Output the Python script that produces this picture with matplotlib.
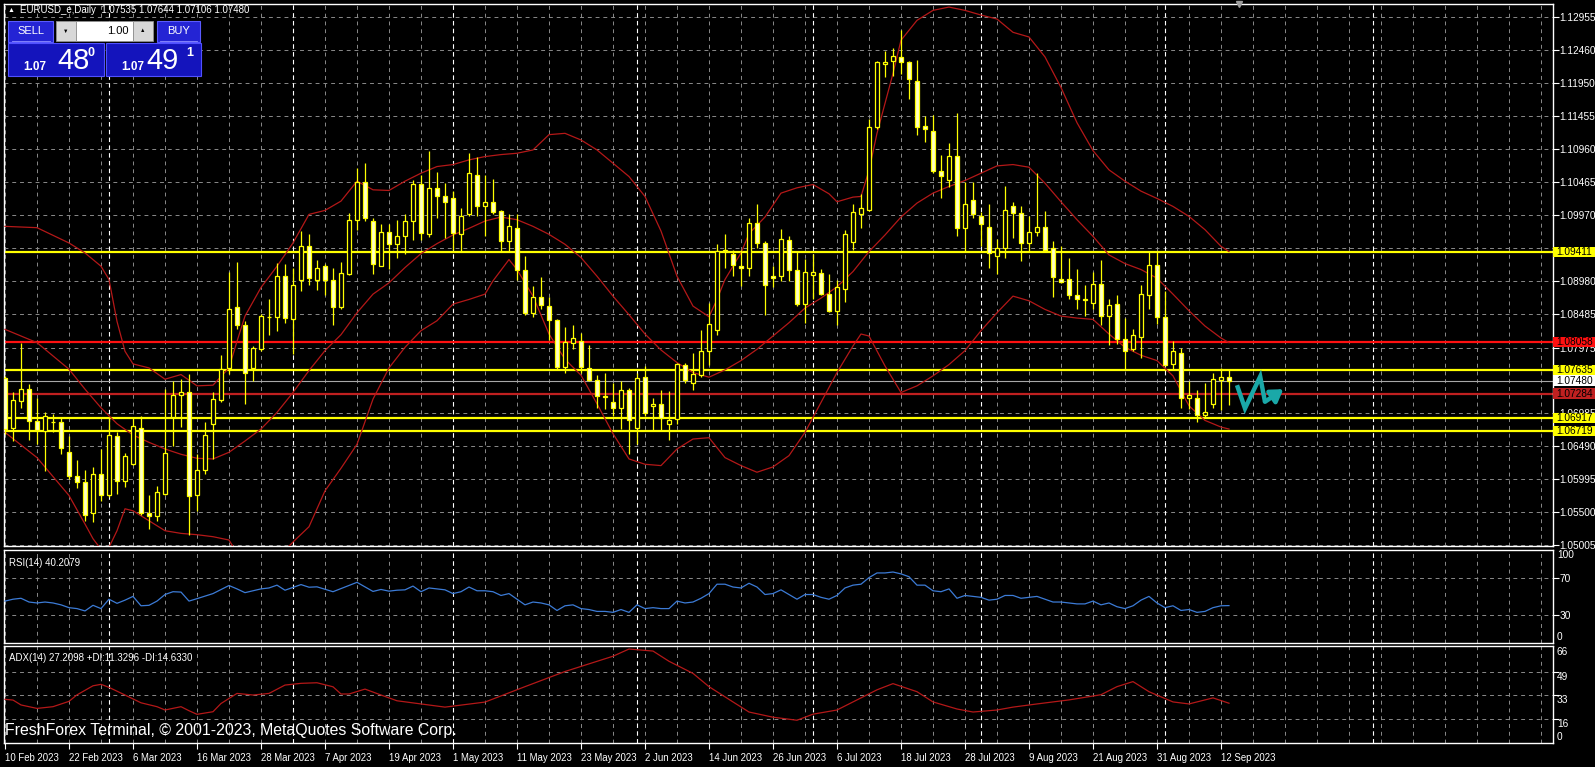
import numpy as np
import matplotlib.pyplot as plt
from matplotlib.patches import Rectangle
from matplotlib.transforms import blended_transform_factory

plt.rcParams['font.family'] = ['Liberation Sans', 'DejaVu Sans']

# EURUSD daily candles, 10 Feb 2023 .. 13 Sep 2023
opens = [1.0752, 1.0677, 1.0717, 1.0736, 1.0687, 1.0672, 1.0686, 1.0685, 1.0641, 1.0604,
         1.0596, 1.0548, 1.0608, 1.0576, 1.0665, 1.0597, 1.0623, 1.0677, 1.0549, 1.0544,
         1.0577, 1.0693, 1.0726, 1.0731, 1.0575, 1.0613, 1.0682, 1.0718, 1.0767, 1.0858,
         1.0832, 1.0767, 1.0795, 1.0843, 1.0843, 1.0905, 1.0840, 1.0899, 1.0950, 1.0900,
         1.0920, 1.0899, 1.0858, 1.0909, 1.0990, 1.1046, 1.0988, 1.0921, 1.0971, 1.0953,
         1.0966, 1.0988, 1.1044, 1.0969, 1.1038, 1.1026, 1.1023, 1.0968, 1.0998, 1.1058,
         1.1010, 1.1017, 1.1003, 1.0958, 1.0978, 1.0914, 1.0849, 1.0873, 1.0860, 1.0839,
         1.0769, 1.0804, 1.0808, 1.0767, 1.0749, 1.0725, 1.0716, 1.0706, 1.0733, 1.0676,
         1.0754, 1.0709, 1.0712, 1.0682, 1.0690, 1.0772, 1.0745, 1.0757, 1.0792, 1.0824,
         1.0943, 1.0939, 1.0920, 1.0918, 1.0985, 1.0955, 1.0906, 1.0905, 1.0960, 1.0914,
         1.0863, 1.0907, 1.0910, 1.0878, 1.0852, 1.0886, 1.0956, 1.0999, 1.1005, 1.1129,
         1.1225, 1.1229, 1.1235, 1.1227, 1.1199, 1.1131, 1.1123, 1.1063, 1.1050, 1.1086,
         1.0977, 1.1020, 1.0996, 1.0979, 1.0935, 1.0947, 1.1011, 1.1000, 1.0955, 1.0971,
         1.0979, 1.0947, 1.0901, 1.0901, 1.0877, 1.0870, 1.0865, 1.0893, 1.0845, 1.0863,
         1.0810, 1.0795, 1.0814, 1.0877, 1.0922, 1.0843, 1.0773, 1.0790, 1.0721, 1.0721,
         1.0696, 1.0712, 1.0749, 1.07535]
highs = [1.0755, 1.0730, 1.0805, 1.0743, 1.0722, 1.0700, 1.0698, 1.0692, 1.0665, 1.0628,
         1.0614, 1.0618, 1.0645, 1.0691, 1.0670, 1.0639, 1.0693, 1.0695, 1.0575, 1.0590,
         1.0735, 1.0748, 1.0750, 1.0758, 1.0637, 1.0685, 1.0730, 1.0787, 1.0911, 1.0927,
         1.0838, 1.0800, 1.0848, 1.0870, 1.0925, 1.0924, 1.0917, 1.0973, 1.0969, 1.0929,
         1.0924, 1.0917, 1.0927, 1.1000, 1.1068, 1.1075, 1.0992, 1.0984, 1.0984, 1.0989,
         1.0998, 1.1050, 1.1058, 1.1094, 1.1062, 1.1045, 1.1033, 1.1007, 1.1090, 1.1085,
         1.1058, 1.1052, 1.1005, 1.0998, 1.0998, 1.0935, 1.0890, 1.0904, 1.0874, 1.0840,
         1.0829, 1.0831, 1.0820, 1.0802, 1.0757, 1.0759, 1.0744, 1.0747, 1.0737, 1.0759,
         1.0770, 1.0722, 1.0733, 1.0732, 1.0775, 1.0774, 1.0789, 1.0824, 1.0864, 1.0953,
         1.0969, 1.0945, 1.0944, 1.0992, 1.1013, 1.0958, 1.0921, 1.0976, 1.0965, 1.0941,
         1.0931, 1.0938, 1.0916, 1.0909, 1.0899, 1.0974, 1.1014, 1.1028, 1.1142, 1.1229,
         1.1244, 1.1249, 1.1276, 1.1229, 1.1230, 1.1146, 1.1147, 1.1087, 1.1105, 1.1150,
         1.1047, 1.1047, 1.1001, 1.1014, 1.0961, 1.1041, 1.1016, 1.1010, 1.0995, 1.1061,
         1.1003, 1.0958, 1.0950, 1.0933, 1.0916, 1.0892, 1.0912, 1.0930, 1.0870, 1.0876,
         1.0842, 1.0825, 1.0891, 1.0943, 1.0942, 1.0882, 1.0808, 1.0797, 1.0748, 1.0733,
         1.0745, 1.0760, 1.0767, 1.07644]
lows = [1.0667, 1.0657, 1.0706, 1.0659, 1.0653, 1.0612, 1.0670, 1.0637, 1.0600, 1.0587,
        1.0536, 1.0535, 1.0567, 1.0572, 1.0577, 1.0588, 1.0621, 1.0546, 1.0525, 1.0537,
        1.0575, 1.0650, 1.0678, 1.0516, 1.0551, 1.0608, 1.0630, 1.0715, 1.0758, 1.0825,
        1.0712, 1.0747, 1.0793, 1.0817, 1.0823, 1.0835, 1.0788, 1.0882, 1.0892, 1.0884,
        1.0877, 1.0832, 1.0855, 1.0907, 1.0975, 1.0988, 1.0909, 1.0921, 1.0916, 1.0933,
        1.0938, 1.0960, 1.0960, 1.0964, 1.0992, 1.0962, 1.0944, 1.0943, 1.0995, 1.0996,
        1.0965, 1.0998, 1.0943, 1.0943, 1.0899, 1.0847, 1.0844, 1.0855, 1.0809, 1.0764,
        1.0760, 1.0795, 1.0760, 1.0748, 1.0707, 1.0705, 1.0695, 1.0675, 1.0637, 1.0653,
        1.0695, 1.0674, 1.0674, 1.0659, 1.0682, 1.0744, 1.0733, 1.0753, 1.0772, 1.0817,
        1.0918, 1.0905, 1.0890, 1.0905, 1.0948, 1.0846, 1.0888, 1.0898, 1.0898, 1.0860,
        1.0834, 1.0871, 1.0876, 1.0851, 1.0832, 1.0866, 1.0944, 1.0978, 1.1003, 1.1127,
        1.1204, 1.1206, 1.1210, 1.1172, 1.1117, 1.1107, 1.1060, 1.1022, 1.1039, 1.0966,
        1.0943, 1.0992, 1.0951, 1.0917, 1.0908, 1.0932, 1.0963, 1.0928, 1.0943, 1.0966,
        1.0942, 1.0873, 1.0895, 1.0870, 1.0855, 1.0845, 1.0856, 1.0832, 1.0802, 1.0803,
        1.0765, 1.0792, 1.0782, 1.0855, 1.0833, 1.0770, 1.0765, 1.0706, 1.0705, 1.0686,
        1.0692, 1.0707, 1.0703, 1.07106]
closes = [1.0675, 1.0718, 1.0736, 1.0687, 1.0673, 1.0694, 1.0685, 1.0646, 1.0604, 1.0596,
          1.0546, 1.0608, 1.0576, 1.0666, 1.0597, 1.0634, 1.0679, 1.0548, 1.0544, 1.0580,
          1.0639, 1.0726, 1.0731, 1.0574, 1.0613, 1.0666, 1.0720, 1.0766, 1.0856, 1.0832,
          1.0760, 1.0797, 1.0845, 1.0844, 1.0905, 1.0842, 1.0892, 1.0950, 1.0902, 1.0918,
          1.0900, 1.0858, 1.0910, 1.0990, 1.1046, 1.0992, 1.0923, 1.0971, 1.0953, 1.0966,
          1.0988, 1.1044, 1.0970, 1.1038, 1.1026, 1.1016, 1.0970, 1.0996, 1.1061, 1.1010,
          1.1017, 1.1002, 1.0958, 1.0980, 1.0915, 1.0849, 1.0873, 1.0861, 1.0839, 1.0769,
          1.0806, 1.0812, 1.0769, 1.0749, 1.0725, 1.0723, 1.0706, 1.0733, 1.0688, 1.0752,
          1.0699, 1.0712, 1.0692, 1.0689, 1.0773, 1.0749, 1.0758, 1.0793, 1.0833, 1.0943,
          1.0944, 1.0922, 1.0917, 1.0985, 1.0955, 1.0891, 1.0903, 1.0961, 1.0914, 1.0863,
          1.0911, 1.0912, 1.0878, 1.0853, 1.0888, 1.0969, 1.1001, 1.1008, 1.1129, 1.1227,
          1.1227, 1.1237, 1.1227, 1.1202, 1.1130, 1.1126, 1.1063, 1.1056, 1.1086, 1.0977,
          1.1014, 1.0998, 1.0984, 1.0940, 1.0948, 1.1005, 1.1000, 1.0955, 1.0972, 1.0979,
          1.0944, 1.0904, 1.0897, 1.0876, 1.0871, 1.0869, 1.0893, 1.0845, 1.0862, 1.0810,
          1.0793, 1.0817, 1.0878, 1.0922, 1.0843, 1.0772, 1.0793, 1.0721, 1.0726, 1.0696,
          1.0701, 1.0750, 1.0753, 1.07480]

# Bollinger bands (bar index, price) read at sample bars
upper_idx = [0, 4, 8, 10, 12, 13, 14, 15, 16, 18, 20, 22, 24, 26, 28, 29, 30, 32, 34, 36,
             38, 40, 42, 44, 46, 48, 50, 52, 54, 56, 58, 60, 62, 64, 66, 68, 70, 72, 74, 76,
             78, 80, 82, 84, 86, 88, 89, 90, 92, 93, 95, 97, 99, 101, 103, 104, 106, 107, 108, 109,
             110, 111, 112, 114, 116, 118, 120, 122, 124, 126, 128, 130, 132, 134, 136, 138, 140, 142, 144, 146,
             148, 150, 152, 153]
upper_val = [1.0980, 1.0978, 1.0955, 1.0940, 1.0920, 1.0900, 1.0837, 1.0792, 1.0773, 1.0767,
             1.0750, 1.0757, 1.0740, 1.0741, 1.0767, 1.0807, 1.0845, 1.0888, 1.0920, 1.0955,
             1.0998, 1.1004, 1.1018, 1.1048, 1.1035, 1.1034, 1.1048, 1.1060, 1.1070, 1.1073,
             1.1080, 1.1085, 1.1088, 1.1090, 1.1095, 1.1118, 1.1120, 1.1110, 1.1095, 1.1075,
             1.1055, 1.1025, 1.0973, 1.0905, 1.0860, 1.0844, 1.0870, 1.0900, 1.0940, 1.0969,
             1.0994, 1.1030, 1.1038, 1.1043, 1.1029, 1.1017, 1.1024, 1.1025, 1.1064, 1.1120,
             1.1165, 1.1210, 1.1260, 1.1290, 1.1305, 1.1310, 1.1305, 1.1298, 1.1292, 1.1272,
             1.1265, 1.1235, 1.1189, 1.1136, 1.1094, 1.1065, 1.1048, 1.1033, 1.1022, 1.1010,
             1.0995, 1.0975, 1.0950, 1.0942]
mid_idx = [0, 2, 4, 6, 8, 10, 12, 14, 16, 18, 20, 22, 24, 26, 28, 30, 32, 34, 36, 38,
           40, 42, 44, 46, 48, 50, 52, 54, 56, 58, 60, 62, 64, 66, 68, 70, 72, 74, 76, 78,
           80, 82, 84, 86, 88, 90, 92, 94, 96, 98, 100, 102, 104, 106, 108, 110, 112, 114, 116, 118,
           120, 122, 124, 126, 128, 130, 132, 134, 136, 138, 140, 142, 144, 146, 148, 150, 152, 153]
mid_val = [1.0825, 1.0815, 1.0805, 1.0785, 1.0765, 1.0735, 1.0707, 1.0683, 1.0666, 1.0655,
           1.0645, 1.0637, 1.0631, 1.0630, 1.0640, 1.0657, 1.0675, 1.0700, 1.0730, 1.0763,
           1.0793, 1.0817, 1.0850, 1.0878, 1.0895, 1.0918, 1.0939, 1.0954, 1.0967, 1.0977,
           1.0988, 1.0994, 1.0990, 1.0980, 1.0968, 1.0953, 1.0933, 1.0905, 1.0875, 1.0847,
           1.0818, 1.0794, 1.0775, 1.0760, 1.0753, 1.0764, 1.0778, 1.0795, 1.0815, 1.0835,
           1.0857, 1.0872, 1.0889, 1.0912, 1.0942, 1.0967, 1.0994, 1.1015, 1.1030, 1.1040,
           1.1049, 1.1060, 1.1071, 1.1073, 1.1069, 1.1045, 1.1017, 1.0990, 1.0965, 1.0937,
           1.0924, 1.0915, 1.0902, 1.0878, 1.0853, 1.0830, 1.0812, 1.0805]
lower_idx = [0, 4, 8, 10, 11, 12, 13, 14, 15, 16, 18, 20, 22, 24, 26, 28, 30, 32, 34, 36,
             38, 40, 42, 44, 46, 48, 50, 52, 54, 56, 58, 60, 61, 63, 64, 66, 68, 70, 72, 74,
             76, 78, 80, 82, 84, 86, 88, 90, 92, 94, 96, 98, 100, 102, 104, 106, 107, 108, 110, 112,
             114, 116, 118, 120, 122, 124, 126, 128, 130, 132, 134, 136, 138, 140, 142, 144, 146, 148,
             150, 152, 153]
lower_val = [1.0670, 1.0632, 1.0575, 1.0532, 1.0510, 1.0494, 1.0497, 1.0522, 1.0555, 1.0552,
             1.0537, 1.0522, 1.0518, 1.0516, 1.0513, 1.0508, 1.0469, 1.0462, 1.0480, 1.0505,
             1.0528, 1.0582, 1.0616, 1.0652, 1.0720, 1.0767, 1.0798, 1.0823, 1.0838, 1.0863,
             1.0870, 1.0878, 1.0898, 1.0930, 1.0915, 1.0875, 1.0818, 1.0780, 1.0756, 1.0713,
             1.0668, 1.0630, 1.0622, 1.0620, 1.0645, 1.0660, 1.0662, 1.0632, 1.0620, 1.0610,
             1.0618, 1.0635, 1.0670, 1.0715, 1.0760, 1.0800, 1.0818, 1.0815, 1.0770, 1.0730,
             1.0740, 1.0755, 1.0772, 1.0793, 1.0823, 1.0850, 1.0875, 1.0868, 1.0855, 1.0845,
             1.0842, 1.0840, 1.0818, 1.0798, 1.0786, 1.0778, 1.0755, 1.0710, 1.0688, 1.0678,
             1.0675]

# RSI(14)
rsi_idx = [0, 1, 2, 3, 4, 5, 6, 7, 8, 9, 10, 11, 12, 13, 14, 15, 16, 17, 18, 19,
           20, 21, 22, 23, 24, 26, 28, 29, 30, 32, 33, 34, 35, 37, 38, 39, 41, 44, 46, 47,
           48, 49, 50, 51, 52, 53, 54, 55, 56, 57, 58, 59, 60, 61, 62, 63, 64, 65, 66, 67,
           68, 69, 70, 71, 72, 73, 74, 75, 76, 77, 78, 79, 80, 81, 82, 83, 84, 85, 86, 87,
           88, 89, 90, 91, 92, 93, 94, 95, 96, 97, 98, 99, 100, 101, 102, 103, 104, 105, 106, 107,
           108, 109, 110, 111, 112, 113, 114, 115, 116, 117, 118, 119, 120, 121, 122, 123, 124, 125, 126, 127,
           128, 129, 130, 131, 132, 133, 134, 135, 136, 137, 138, 139, 140, 141, 142, 143, 144, 145, 146, 147,
           148, 149, 150, 151, 152, 153]
rsi_val = [45, 47, 48, 44, 43, 44, 43, 41, 38, 37, 34.5, 40.5, 37, 47, 42.6, 46, 50, 40, 40.5, 45,
           52, 55, 54.6, 45, 47.6, 53, 61.6, 58, 54, 58, 59, 62, 56.6, 62.6, 59.8, 60.2, 55, 65, 55.3, 57.4,
           55.6, 56.6, 57, 61, 55, 59, 58, 57, 53, 55, 60, 56, 56, 55, 51, 53, 47, 41, 44, 43,
           41, 35, 40, 41, 37, 36, 34, 34, 33, 36, 33, 41, 37, 38, 37, 37, 45, 43, 44, 48,
           53, 63, 63, 60, 59, 64, 60, 52, 53, 57, 52, 47, 52, 52, 49, 47, 51, 59, 62, 63,
           70, 75, 75, 76, 74, 71, 62, 62, 56, 55, 58, 48, 51, 50, 49, 46, 47, 51, 51, 48,
           49, 50, 47, 44, 44, 43, 42, 42, 45, 41, 43, 39, 37, 40, 46, 50, 43, 38, 40, 35,
           36, 33, 34, 38, 40, 40.2]

# ADX(14) main line
adx_idx = [0, 1, 2, 4, 6, 8, 9, 11, 12, 13, 15, 17, 19, 20, 22, 23, 24, 26, 27, 29,
           31, 33, 35, 37, 39, 41, 42, 43, 45, 47, 49, 55, 60, 65, 70, 76, 78, 81, 83, 86,
           88, 91, 93, 96, 99, 101, 104, 106, 109, 111, 114, 116, 119, 121, 124, 126, 129, 133, 137, 139,
           141, 143, 146, 148, 151, 153]
adx_val = [29.9, 29.4, 26.0, 23.6, 24.8, 28.5, 33.0, 39.3, 40.3, 38.2, 32.9, 27.5, 24.8, 22.5, 24.8, 22.0, 19.5, 21.3, 27.0, 34.0,
           32.9, 34.0, 39.8, 41.0, 41.4, 38.6, 33.6, 33.6, 37.0, 32.9, 28.9, 24.5, 28.0, 38.7, 49.2, 59.8, 64.8, 63.4, 56.3, 47.9,
           38.7, 28.1, 21.1, 17.5, 15.4, 19.6, 22.5, 28.1, 36.5, 40.8, 35.2, 28.1, 23.2, 21.1, 22.5, 24.5, 26.7, 29.5, 33.1, 38.7,
           42.2, 35.2, 28.1, 26.7, 30.9, 27.2]

# horizontal levels drawn on the chart
level_prices = [1.09411, 1.08058, 1.07635, 1.07284, 1.06917, 1.06719]
level_colors = ['#FFFF00', '#FF1010', '#FFFF00', '#C02020', '#FFFF00', '#FFFF00']
bid_price = 1.07480

price_ticks = [1.12955, 1.12460, 1.11950, 1.11455, 1.10960, 1.10465, 1.09970, 1.09475,
               1.08980, 1.08485, 1.07975, 1.07480, 1.06985, 1.06490, 1.05995, 1.05500, 1.05005]
hidden_ticks = [1.09475, 1.07480]
date_idx = list(range(0, 153, 8))
date_labels = ['10 Feb 2023', '22 Feb 2023', '6 Mar 2023', '16 Mar 2023', '28 Mar 2023',
               '7 Apr 2023', '19 Apr 2023', '1 May 2023', '11 May 2023', '23 May 2023',
               '2 Jun 2023', '14 Jun 2023', '26 Jun 2023', '6 Jul 2023', '18 Jul 2023',
               '28 Jul 2023', '9 Aug 2023', '21 Aug 2023', '31 Aug 2023', '12 Sep 2023']
month_starts = [13, 36, 56, 79, 101, 122, 145, 171]

# hand drawn teal zigzag arrow (bar index, price)
arrow_i = [154.0, 155.0, 156.9, 157.5, 159.8]
arrow_p = [1.0741, 1.0706, 1.0754, 1.0716, 1.0735]

W, H = 1595, 767
fig = plt.figure(figsize=(W / 100, H / 100), dpi=100, facecolor='black')


def px_axes(left, top, right, bottom):
    a = fig.add_axes([left / W, 1 - bottom / H, (right - left) / W, (bottom - top) / H])
    a.set_facecolor('black')
    for s in a.spines.values():
        s.set_color('white')
        s.set_linewidth(1.0)
    a.set_xlim(-0.125, 193.44)
    return a


ax = px_axes(4, 4, 1552.5, 546)
ax_rsi = px_axes(4, 549.5, 1552.5, 643.3)
ax_adx = px_axes(4, 646, 1552.5, 743.3)

grid_kw = dict(color='#8A8A8A', lw=0.7, linestyle=(0, (4, 4)), zorder=1)
for a in (ax, ax_rsi, ax_adx):
    for g in range(0, 194, 4):
        a.axvline(g, **grid_kw)
    for m in month_starts:
        a.axvline(m, color='white', lw=0.8, linestyle=(0, (4, 3)), zorder=1.2)

# ---- main price panel
ymin, ymax = 1.04990, 1.13146
ax.set_ylim(ymin, ymax)
for p in price_ticks:
    ax.axhline(p, **grid_kw)
ax.yaxis.tick_right()
ax.set_yticks(price_ticks)
ax.set_yticklabels(['' if p in hidden_ticks else '%.5f' % p for p in price_ticks])
ax.tick_params(axis='y', colors='white', labelsize=7.3, length=4, width=0.8, pad=1)
ax.set_xticks([])

x = np.arange(len(closes))
o, h, l, c = map(np.array, (opens, highs, lows, closes))
bull = c >= o
ax.vlines(x, l, h, color='#FFFF00', lw=0.9, zorder=4)
lo = np.minimum(o, c)
ht = np.abs(c - o)
ax.bar(x[bull], ht[bull], bottom=lo[bull], width=0.62, color='black',
       edgecolor='#FFFF00', linewidth=0.9, zorder=5)
ax.bar(x[~bull], ht[~bull], bottom=lo[~bull], width=0.62, color='#FFFFC8',
       edgecolor='#FFFF00', linewidth=0.9, zorder=5)

band_kw = dict(color='#B41818', lw=0.9, zorder=3)
ax.plot(upper_idx, upper_val, **band_kw)
ax.plot(mid_idx, mid_val, **band_kw)
ax.plot(lower_idx, lower_val, **band_kw)

for p, col in zip(level_prices, level_colors):
    ax.axhline(p, color=col, lw=1.6, zorder=2.5)
ax.axhline(bid_price, color='#A8A8A8', lw=0.8, zorder=2.5)

ax.plot(arrow_i[:4], arrow_p[:4], color='#1AA8A8', lw=3.2, solid_joinstyle='miter',
        solid_capstyle='butt', zorder=6)
ax.annotate('', xy=(arrow_i[4], arrow_p[4]), xytext=(arrow_i[3], arrow_p[3]),
            arrowprops=dict(arrowstyle='-|>,head_width=0.45,head_length=0.7',
                            color='#1AA8A8', lw=3.2, shrinkA=0, shrinkB=0), zorder=6)

# price tags on the right scale
tr = blended_transform_factory(ax.transAxes, ax.transData)
px_per_price = (546 - 4) / (ymax - ymin)
tag_h = 10.5 / px_per_price
tag_w = (1595 - 1552.5) / (1552.5 - 4)


def price_tag(p, fc):
    ax.add_patch(Rectangle((1.0, p - tag_h / 2), tag_w, tag_h, transform=tr, fc=fc,
                           ec='none', clip_on=False, zorder=9))
    ax.text(1.0022, p, '%.5f' % p, transform=tr, fontsize=7.3, color='black',
            va='center', ha='left', clip_on=False, zorder=10)


for p, col in zip(level_prices, level_colors):
    price_tag(p, col)
price_tag(bid_price, 'white')

# ---- RSI panel
ax_rsi.set_ylim(0, 100)
for v in (30, 70):
    ax_rsi.axhline(v, **grid_kw)
ax_rsi.plot(rsi_idx, rsi_val, color='#3C7BD6', lw=0.9, zorder=3)
ax_rsi.yaxis.tick_right()
ax_rsi.set_yticks([30, 70])
ax_rsi.set_yticklabels(['30', '70'])
ax_rsi.tick_params(axis='y', colors='white', labelsize=7.3, length=4, width=0.8, pad=1)
ax_rsi.set_xticks([])
trr = blended_transform_factory(ax_rsi.transAxes, ax_rsi.transData)
ax_rsi.text(1.0028, 99, '100', transform=trr, color='white', fontsize=7.3, va='top')
ax_rsi.text(1.0028, 1, '0', transform=trr, color='white', fontsize=7.3, va='bottom')
ax_rsi.text(0.0035, 0.86, 'RSI(14) 40.2079', transform=ax_rsi.transAxes, color='white',
            fontsize=7, va='center')

# ---- ADX panel
ax_adx.set_ylim(-0.6, 66.9)
for v in (16, 33, 49):
    ax_adx.axhline(v, **grid_kw)
ax_adx.plot(adx_idx, adx_val, color='#B41818', lw=0.9, zorder=3)
ax_adx.yaxis.tick_right()
ax_adx.set_yticks([16, 33, 49])
ax_adx.set_yticklabels([])
ax_adx.tick_params(axis='y', colors='white', length=4, width=0.8)
tra = blended_transform_factory(ax_adx.transAxes, ax_adx.transData)
for v in (66, 49, 33, 16):
    ax_adx.text(1.0028, v, str(v), transform=tra, color='white', fontsize=7.3, va='top')
ax_adx.text(1.0028, 0, '0', transform=tra, color='white', fontsize=7.3, va='bottom')
ax_adx.text(0.0035, 0.88, 'ADX(14) 27.2098 +DI:11.3296 -DI:14.6330',
            transform=ax_adx.transAxes, color='white', fontsize=7, va='center')
ax_adx.set_xticks(date_idx)
ax_adx.set_xticklabels(date_labels, ha='left')
ax_adx.tick_params(axis='x', colors='white', labelsize=6.9, length=4, width=0.8, pad=3)

# ---- overlay: header, trade panel, copyright
ov = fig.add_axes([0, 0, 1, 1])
ov.set_xlim(0, W)
ov.set_ylim(H, 0)
ov.axis('off')
ov.patch.set_alpha(0)

ov.text(8, 10, '\u25b2', color='white', fontsize=5, va='center')
ov.text(20, 10, 'EURUSD_e,Daily  1.07535 1.07644 1.07106 1.07480', color='white',
        fontsize=7, va='center')
ov.plot([1239], [4], marker='v', color='#A0A0A0', ms=5)

btn = '#2424D4'
box = '#1414BC'
ov.add_patch(Rectangle((8, 21), 45, 21, fc=btn, ec='#5A5AFF', lw=0.8))
ov.add_patch(Rectangle((157, 21), 43, 21, fc=btn, ec='#5A5AFF', lw=0.8))
ov.plot([12, 50], [40.5, 40.5], color='#9090FF', lw=0.6)
ov.plot([160, 197], [40.5, 40.5], color='#9090FF', lw=0.6)
ov.text(30.5, 31, 'SELL', color='white', fontsize=8, ha='center', va='center')
ov.text(178.5, 31, 'BUY', color='white', fontsize=8, ha='center', va='center')
ov.add_patch(Rectangle((56, 21), 20, 20, fc='#D8D8D8', ec='#909090', lw=0.6))
ov.add_patch(Rectangle((76, 21), 57, 20, fc='white', ec='#909090', lw=0.6))
ov.add_patch(Rectangle((133, 21), 20, 20, fc='#D8D8D8', ec='#909090', lw=0.6))
ov.text(66, 31, '\u25bc', color='black', fontsize=4, ha='center', va='center')
ov.text(143, 31, '\u25b2', color='black', fontsize=4, ha='center', va='center')
ov.text(129, 31, '1.00', color='black', fontsize=8, ha='right', va='center')

ov.add_patch(Rectangle((8, 43), 96, 33, fc=box, ec='#5050FF', lw=0.8))
ov.add_patch(Rectangle((106, 43), 95, 33, fc=box, ec='#5050FF', lw=0.8))
ov.text(23, 70, '1.07', color='white', fontsize=8.5, fontweight='bold', va='baseline')
ov.text(57, 69, '48', color='white', fontsize=21, va='baseline')
ov.text(87, 47, '0', color='white', fontsize=9, fontweight='bold', va='top')
ov.text(121, 70, '1.07', color='white', fontsize=8.5, fontweight='bold', va='baseline')
ov.text(146, 69, '49', color='white', fontsize=21, va='baseline')
ov.text(186, 47, '1', color='white', fontsize=9, fontweight='bold', va='top')

ov.text(5, 730, 'FreshForex Terminal, \u00a9 2001-2023, MetaQuotes Software Corp.',
        color='white', fontsize=11.4, va='center')

fig.savefig('out.png', dpi=100, facecolor='black')
